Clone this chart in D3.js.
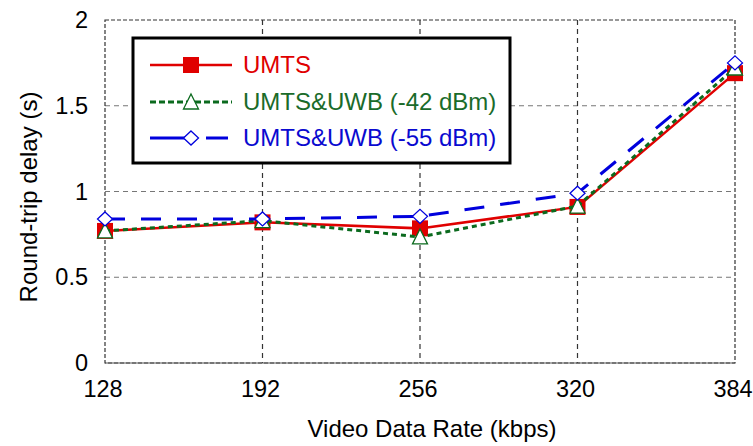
<!DOCTYPE html>
<html>
<head>
<meta charset="utf-8">
<script src="https://cdn.jsdelivr.net/npm/d3@7"></script>
<style>
  html, body { margin: 0; padding: 0; background: #fff; }
  svg { display: block; font-family: "Liberation Sans", Arial, sans-serif; }
</style>
</head>
<body>
<svg id="chart" width="753" height="446"></svg>
<script>
// Video data rates (kbps) on the x axis
const rates = [128, 192, 256, 320, 384];
// Round-trip delay (s) per configuration
const umts = [0.77, 0.82, 0.785, 0.91, 1.69];
const uwb42 = [0.77, 0.83, 0.735, 0.915, 1.72];
const uwb55 = [0.84, 0.84, 0.855, 0.99, 1.75];
const yTicks = [0, 0.5, 1, 1.5, 2];
const seriesNames = ["UMTS", "UMTS&UWB (-42 dBm)", "UMTS&UWB (-55 dBm)"];

const series = [
  { name: seriesNames[0], values: umts, color: "#e00000", text: "#e00000", width: 2.5, dash: null, marker: "square" },
  { name: seriesNames[1], values: uwb42, color: "#0b6a1e", text: "#1a6b2a", width: 3, dash: "5,4", marker: "triangle" },
  { name: seriesNames[2], values: uwb55, color: "#0000dd", text: "#0a0ad0", width: 3, dash: "20,16", marker: "diamond" }
];

const svg = d3.select("#chart");
const L = 105, R = 735, T = 20, B = 363;

const x = d3.scaleLinear().domain([128, 384]).range([L, R]);
const y = d3.scaleLinear().domain([0, 2]).range([B, T]);

// Grid lines
const grid = svg.append("g");
grid.selectAll("line.h").data(yTicks.filter(d => d > 0 && d < 2)).join("line")
  .attr("x1", L).attr("x2", R)
  .attr("y1", d => y(d)).attr("y2", d => y(d))
  .attr("stroke", "#777").attr("stroke-width", 1.2).attr("stroke-dasharray", "5,4");
grid.selectAll("line.v").data(rates.slice(1, -1)).join("line")
  .attr("y1", T).attr("y2", B)
  .attr("x1", d => x(d)).attr("x2", d => x(d))
  .attr("stroke", "#333").attr("stroke-width", 1.2).attr("stroke-dasharray", "5,4");

// Plot frame
svg.append("rect").attr("x", L).attr("y", T).attr("width", R - L).attr("height", B - T)
  .attr("fill", "none").attr("stroke", "#333").attr("stroke-width", 1.2).attr("stroke-dasharray", "4,2");
svg.append("line").attr("x1", L).attr("x2", R).attr("y1", B).attr("y2", B)
  .attr("stroke", "#555").attr("stroke-width", 1);

// Axes (tick labels only)
const xAxis = svg.append("g").attr("transform", `translate(0,${B})`)
  .call(d3.axisBottom(x).tickValues(rates).tickSize(0).tickPadding(20).tickFormat(d3.format("d")));
const yAxis = svg.append("g").attr("transform", `translate(${L},0)`)
  .call(d3.axisLeft(y).tickValues(yTicks).tickSize(0).tickPadding(17).tickFormat(d => String(d)));
[xAxis, yAxis].forEach(a => {
  a.select(".domain").remove();
  a.selectAll("text").attr("font-size", 23.5).attr("fill", "#000")
    .attr("font-family", "'Liberation Sans', Arial, sans-serif");
});
xAxis.selectAll("text").attr("dy", "0.71em").attr("y", 17).attr("dx", -2.5);

// Axis titles
svg.append("text").attr("x", 432).attr("y", 437).attr("text-anchor", "middle")
  .attr("font-size", 24).text("Video Data Rate (kbps)");
svg.append("text").attr("transform", "translate(37,197) rotate(-90)").attr("text-anchor", "middle")
  .attr("font-size", 24).text("Round-trip delay (s)");

// Marker shapes
function drawMarker(g, type, color, cx, cy) {
  if (type === "square") {
    g.append("rect").attr("x", cx - 8).attr("y", cy - 8).attr("width", 16).attr("height", 16)
      .attr("fill", color);
  } else if (type === "triangle") {
    g.append("path").attr("d", `M${cx},${cy - 8}L${cx + 7.5},${cy + 7}L${cx - 7.5},${cy + 7}Z`)
      .attr("fill", "#fff").attr("stroke", color).attr("stroke-width", 1.3);
  } else {
    g.append("path").attr("d", `M${cx},${cy - 7}L${cx + 7.5},${cy}L${cx},${cy + 7}L${cx - 7.5},${cy}Z`)
      .attr("fill", "#fff").attr("stroke", color).attr("stroke-width", 1.3);
  }
}

const line = d3.line().x((d, i) => x(rates[i])).y(d => y(d));
series.forEach(s => {
  const g = svg.append("g");
  g.append("path").attr("d", line(s.values)).attr("fill", "none")
    .attr("stroke", s.color).attr("stroke-width", s.width)
    .attr("stroke-dasharray", s.dash);
  s.values.forEach((v, i) => drawMarker(g, s.marker, s.color, x(rates[i]), y(v)));
});

// Legend
const lg = svg.append("g");
lg.append("rect").attr("x", 133).attr("y", 38).attr("width", 377).attr("height", 125)
  .attr("fill", "#fff").attr("stroke", "#000").attr("stroke-width", 3);
const rowY = [65, 102, 138];
series.forEach((s, i) => {
  const yy = rowY[i];
  lg.append("line").attr("x1", 150).attr("x2", 232).attr("y1", yy).attr("y2", yy)
    .attr("stroke", s.color).attr("stroke-width", s.width)
    .attr("stroke-dasharray", i === 1 ? "6,3" : (i === 2 ? "40,16,22" : null));
  drawMarker(lg, s.marker, s.color, 191, yy);
  lg.append("text").attr("x", 243).attr("y", yy + 8).attr("font-size", 24)
    .attr("fill", s.text).text(s.name);
});
</script>
</body>
</html>
